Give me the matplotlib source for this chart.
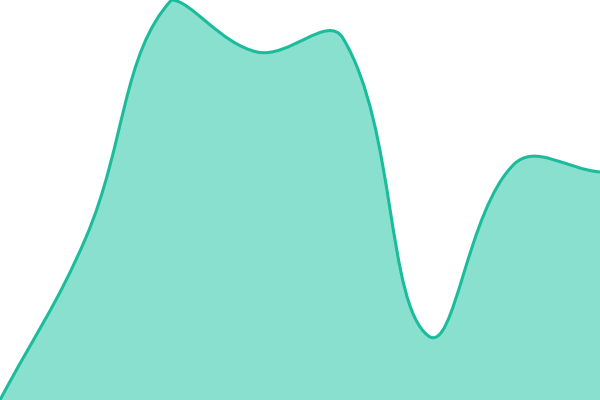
import matplotlib
matplotlib.use('Agg')
import matplotlib.pyplot as plt
from matplotlib.path import Path
from matplotlib.patches import PathPatch
import numpy as np

# Series values (one per evenly spaced point)
labels = ['A', 'B', 'C', 'D', 'E', 'F', 'G', 'H']
values = [0, 40.5, 100, 87, 90.5, 16, 59, 57]

line_color = '#1abc9c'
fill_color = '#8ae0ce'
tension = 0.4

fig = plt.figure(figsize=(6, 4), dpi=100)
ax = fig.add_axes([0, 0, 1, 1])
ax.set_xlim(0, len(values) - 1)
ax.set_ylim(0, 100)
ax.axis('off')

# Work in pixel space for the bezier control points (Chart.js style)
W, H = 600, 400
to_px = ax.transData
px = to_px.transform(np.column_stack([np.arange(len(values)), values]))
left, bottom = to_px.transform((0, 0))
right, top = to_px.transform((len(values) - 1, 100))

ctrl = []
n = len(px)
for i in range(n):
    p0 = px[i - 1] if i > 0 else px[i]
    p1 = px[i]
    p2 = px[i + 1] if i < n - 1 else px[i]
    d01 = np.hypot(*(p1 - p0))
    d12 = np.hypot(*(p2 - p1))
    tot = d01 + d12
    s01 = d01 / tot if tot else 0
    s12 = d12 / tot if tot else 0
    c_prev = p1 - tension * s01 * (p2 - p0)
    c_next = p1 + tension * s12 * (p2 - p0)
    c_prev = np.clip(c_prev, [left, bottom], [right, top])
    c_next = np.clip(c_next, [left, bottom], [right, top])
    ctrl.append((c_prev, c_next))

verts = [px[0]]
codes = [Path.MOVETO]
for i in range(1, n):
    verts += [ctrl[i - 1][1], ctrl[i][0], px[i]]
    codes += [Path.CURVE4] * 3

inv = to_px.inverted()
verts = inv.transform(np.array(verts))

curve = Path(verts, codes)
fill_verts = np.vstack([verts, [[len(values) - 1, 0], [0, 0], verts[0]]])
fill_codes = codes + [Path.LINETO, Path.LINETO, Path.CLOSEPOLY]
ax.add_patch(PathPatch(Path(fill_verts, fill_codes), facecolor=fill_color,
                       edgecolor='none'))
ax.add_patch(PathPatch(curve, facecolor='none', edgecolor=line_color,
                       linewidth=2.2, clip_on=False))

fig.savefig('out.png', dpi=100)
